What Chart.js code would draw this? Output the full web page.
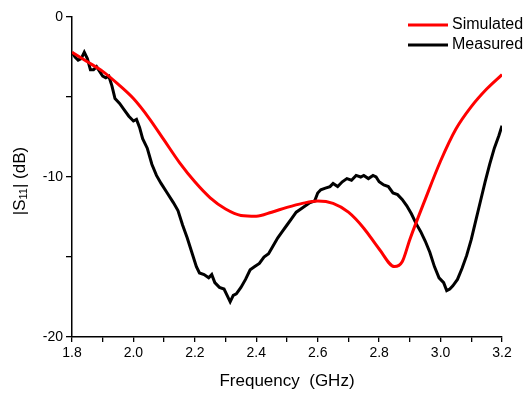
<!DOCTYPE html>
<html><head><meta charset="utf-8">
<script src="https://cdn.jsdelivr.net/npm/chart.js@4.4.0/dist/chart.umd.min.js"></script>
<style>html,body{margin:0;padding:0;background:#fff}#wrap{width:529px;height:393px}</style>
</head><body><div id="wrap"><canvas id="c" width="529" height="393"></canvas></div>
<script>
const seriesNames = ['Simulated', 'Measured'];
const simFreq = [1.80,1.85,1.90,1.95,2.00,2.05,2.10,2.15,2.20,2.25,2.30,2.35,2.40,2.45,2.50,2.55,2.60,2.65,2.70,2.75,2.80,2.85,2.875,2.90,2.95,3.00,3.05,3.10,3.15,3.20];
const simDb = [-2.2,-2.8,-3.4,-4.2,-5.1,-6.3,-7.7,-9.1,-10.3,-11.3,-12.0,-12.4,-12.45,-12.2,-11.9,-11.65,-11.5,-11.65,-12.2,-13.2,-14.5,-15.6,-15.3,-13.9,-11.4,-9.0,-7.0,-5.6,-4.5,-3.6];
const measFreq = [1.800,1.810,1.820,1.830,1.840,1.850,1.860,1.870,1.880,1.890,1.900,1.910,1.920,1.930,1.940,1.955,1.970,1.985,2.000,2.010,2.020,2.030,2.045,2.060,2.075,2.090,2.110,2.130,2.145,2.160,2.175,2.190,2.205,2.215,2.230,2.245,2.255,2.265,2.280,2.295,2.305,2.315,2.325,2.335,2.350,2.365,2.380,2.395,2.410,2.425,2.440,2.455,2.470,2.485,2.500,2.515,2.530,2.545,2.560,2.575,2.590,2.600,2.610,2.625,2.640,2.650,2.665,2.680,2.695,2.710,2.725,2.740,2.750,2.765,2.780,2.790,2.800,2.815,2.830,2.845,2.860,2.875,2.890,2.905,2.920,2.935,2.950,2.965,2.980,2.995,3.010,3.020,3.030,3.040,3.055,3.070,3.085,3.100,3.115,3.130,3.145,3.160,3.175,3.190,3.200];
const measDb = [-2.2,-2.5,-2.7,-2.6,-2.2,-2.6,-3.3,-3.3,-3.1,-3.4,-3.7,-3.8,-3.7,-4.3,-5.1,-5.4,-5.8,-6.2,-6.5,-6.4,-6.9,-7.6,-8.2,-9.2,-9.9,-10.4,-11.0,-11.6,-12.1,-13.0,-13.8,-14.7,-15.6,-16.0,-16.1,-16.3,-16.1,-16.6,-16.9,-17.0,-17.4,-17.8,-17.4,-17.3,-16.9,-16.4,-15.8,-15.6,-15.4,-15.0,-14.8,-14.3,-13.8,-13.4,-13.0,-12.6,-12.2,-12.0,-11.8,-11.6,-11.5,-11.0,-10.8,-10.7,-10.6,-10.4,-10.6,-10.3,-10.1,-10.2,-9.9,-10.0,-9.9,-10.1,-9.9,-10.0,-10.3,-10.5,-10.6,-11.0,-11.1,-11.4,-11.8,-12.3,-12.9,-13.4,-14.0,-14.7,-15.6,-16.3,-16.6,-17.1,-17.0,-16.8,-16.4,-15.7,-14.9,-13.9,-12.7,-11.5,-10.3,-9.2,-8.2,-7.4,-6.8];
const xTickLabels = ['1.8','2.0','2.2','2.4','2.6','2.8','3.0','3.2'];
const yTickLabels = ['0','-10','-20'];
const xTitle = 'Frequency  (GHz)';

const toPts = (xs, ys) => xs.map((x, i) => ({x, y: ys[i]}));
const FONT = '"Liberation Sans", Arial, sans-serif';

const overlay = {
  id: 'overlay',
  afterDraw(chart) {
    const ctx = chart.ctx, ca = chart.chartArea;
    ctx.save();
    ctx.fillStyle = '#000';
    // x title
    ctx.font = '17px ' + FONT;
    ctx.textAlign = 'center'; ctx.textBaseline = 'middle';
    ctx.fillText(xTitle, (ca.left + ca.right) / 2, 381);
    // y title with subscript
    ctx.translate(20, (ca.top + ca.bottom) / 2 + 4);
    ctx.rotate(-Math.PI / 2);
    const big = '17px ' + FONT, small = '11px ' + FONT;
    const parts = [['|S', big, 0], ['11', small, 4], ['| (dB)', big, 0]];
    let total = 0;
    parts.forEach(p => { ctx.font = p[1]; total += ctx.measureText(p[0]).width; });
    let x = -total / 2;
    ctx.textAlign = 'left'; ctx.textBaseline = 'middle';
    parts.forEach(p => { ctx.font = p[1]; ctx.fillText(p[0], x, p[2]); x += ctx.measureText(p[0]).width; });
    ctx.restore();
    // legend
    ctx.save();
    ctx.font = '16px ' + FONT;
    ctx.textBaseline = 'middle'; ctx.textAlign = 'left';
    chart.data.datasets.forEach((ds, i) => {
      const y = 25 + i * 20;
      ctx.strokeStyle = ds.borderColor; ctx.lineWidth = 3;
      ctx.beginPath(); ctx.moveTo(408, y); ctx.lineTo(448, y); ctx.stroke();
      ctx.fillStyle = '#000';
      ctx.fillText(ds.label, 452, y);
    });
    ctx.restore();
  }
};

new Chart(document.getElementById('c'), {
  type: 'line',
  data: {
    datasets: [
      { label: seriesNames[0], data: toPts(simFreq, simDb), borderColor: '#ff0000', borderWidth: 3, pointRadius: 0, fill: false, cubicInterpolationMode: 'monotone' },
      { label: seriesNames[1], data: toPts(measFreq, measDb), borderColor: '#000000', borderWidth: 3, pointRadius: 0, fill: false, tension: 0 }
    ]
  },
  options: {
    responsive: false, animation: false, devicePixelRatio: 1,
    layout: { padding: { top: 17, right: 27, left: 0, bottom: 0 } },
    plugins: { legend: { display: false }, tooltip: { enabled: false } },
    scales: {
      x: {
        type: 'linear', min: 1.8, max: 3.2,
        afterFit: s => { s.height = 56; },
        afterBuildTicks: s => { s.ticks = []; for (let i = 0; i <= 14; i++) s.ticks.push({ value: 1.8 + i * 0.1 }); },
        ticks: {
          autoSkip: false, maxRotation: 0, padding: 3, color: '#000', font: { size: 14, family: FONT },
          callback: (v) => { const k = Math.round((v - 1.8) * 10); return k % 2 === 0 ? xTickLabels[k / 2] : ''; }
        },
        grid: { drawOnChartArea: false, drawTicks: true, tickLength: 5, color: '#000', lineWidth: 1.3 },
        border: { display: true, color: '#000', width: 1.5 }
      },
      y: {
        min: -20, max: 0,
        afterFit: s => { s.width = 72; },
        afterBuildTicks: s => { s.ticks = [0, -5, -10, -15, -20].map(v => ({ value: v })); },
        ticks: {
          autoSkip: false, padding: 3, color: '#000', font: { size: 14, family: FONT },
          callback: (v) => { const r = Math.round(v); return r % 10 === 0 ? yTickLabels[-r / 10] : ''; }
        },
        grid: { drawOnChartArea: false, drawTicks: true, tickLength: 6, color: '#000', lineWidth: 1.3 },
        border: { display: true, color: '#000', width: 1.5 }
      }
    }
  },
  plugins: [overlay]
});
</script></body></html>
